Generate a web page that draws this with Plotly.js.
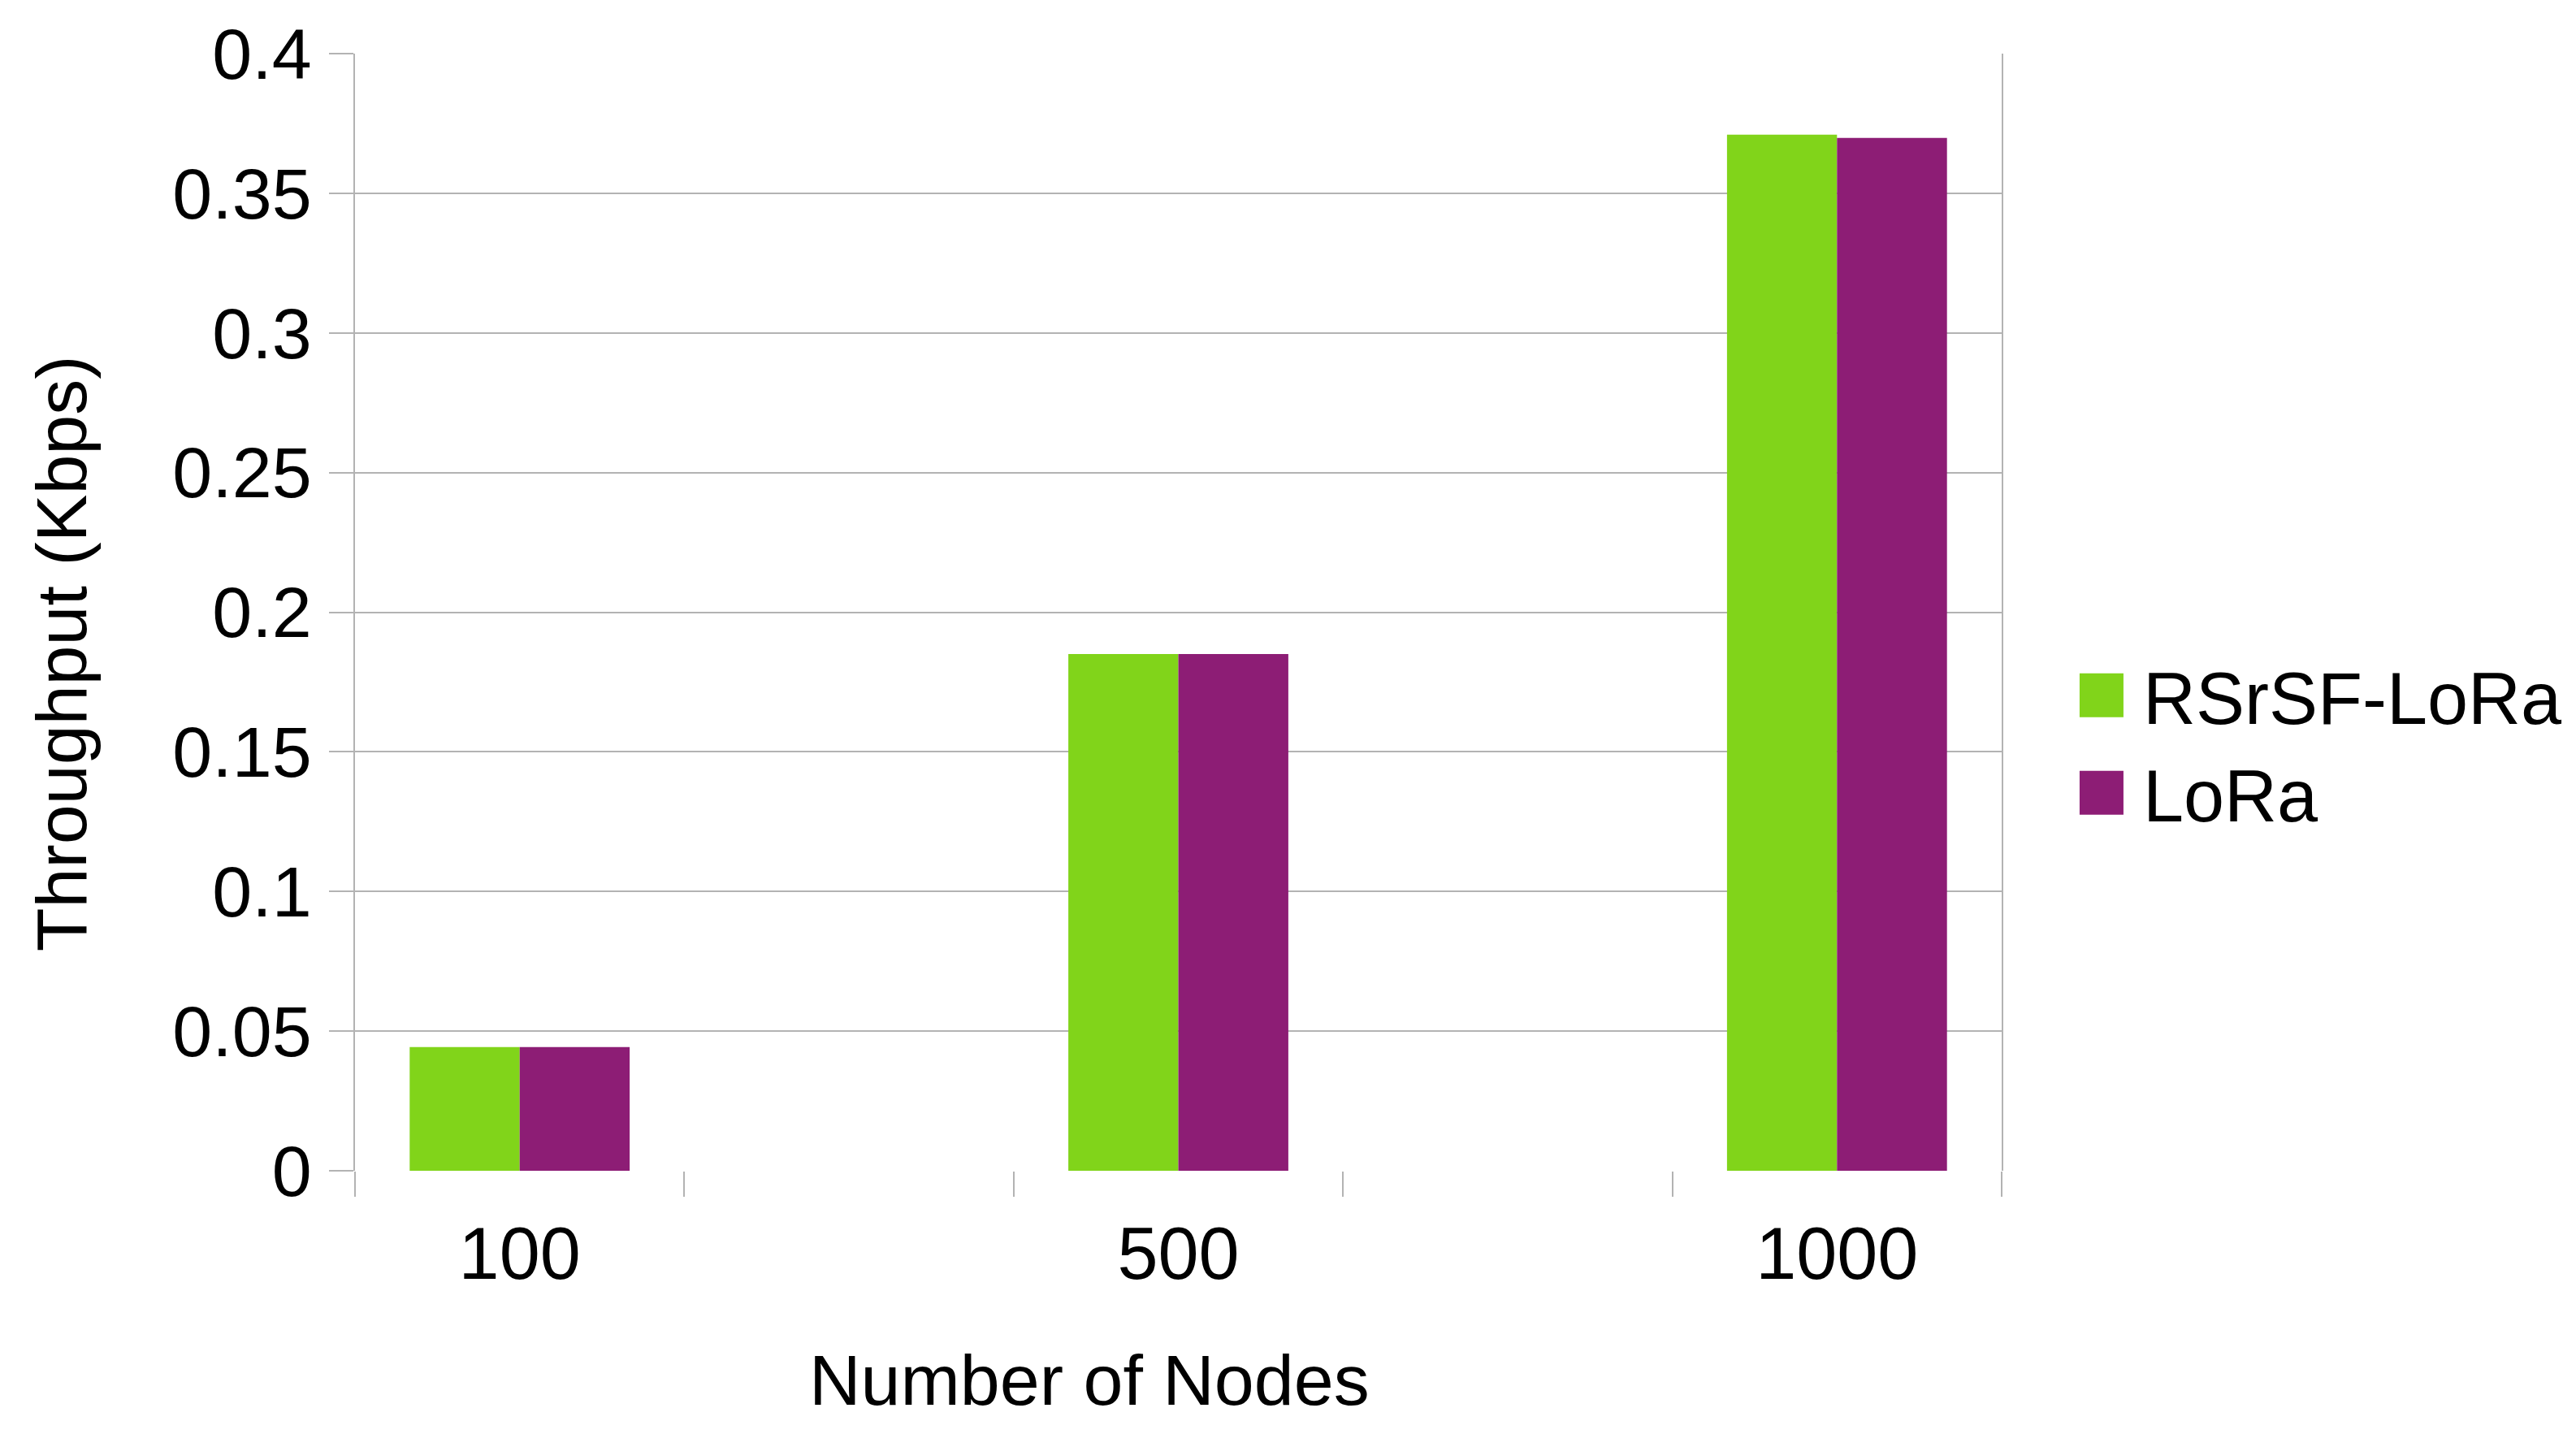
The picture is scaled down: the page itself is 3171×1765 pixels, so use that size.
<!DOCTYPE html>
<html>
<head>
<meta charset="utf-8">
<script src="https://cdn.plot.ly/plotly-3.0.1.min.js"></script>
<style>
  html, body { margin: 0; padding: 0; background: #fff; }
  #chart { width: 3171px; height: 1765px; }
</style>
</head>
<body>
<div id="chart"></div>
<script>
/* -------------------- Data -------------------- */

const categories = ["100", "500", "1000"];
const seriesNames = ["RSrSF-LoRa", "LoRa"];
const rsrsfLora = [0.0443, 0.185, 0.371];
const lora = [0.0443, 0.185, 0.3698];

/* -------------------- Style -------------------- */

const FONT = "Liberation Sans, Arial, sans-serif";
const GRID = "#b3b3b3";
const COLORS = ["#81d41a", "#8d1d75"];
const BAR_W = 0.334;
const SWATCH = 54;

// categories sit on every other slot, so the axis has 5 equal slots
const xPos = categories.map((c, i) => i * 2);
const slotEdges = [];
for (let i = 0; i <= xPos.length * 2 - 1; i++) slotEdges.push(i - 0.5);

const traces = [rsrsfLora, lora].map((vals, i) => ({
  type: "bar",
  name: seriesNames[i],
  x: xPos,
  y: vals,
  width: BAR_W,
  offset: i === 0 ? -BAR_W : 0,
  marker: { color: COLORS[i], line: { width: 0 } },
  hoverinfo: "skip",
}));

const layout = {
  width: 3171,
  height: 1765,
  margin: { l: 437, r: 707, t: 66, b: 324, pad: 0, autoexpand: false },
  paper_bgcolor: "#fff",
  plot_bgcolor: "#fff",
  font: { family: FONT, size: 88, color: "#000" },
  barmode: "overlay",
  showlegend: true,
  legend: {
    x: 1.0345,
    xanchor: "left",
    y: 0.382,
    yanchor: "middle",
    itemwidth: 94,
    font: { family: FONT, size: 90, color: "#000" },
    bgcolor: "rgba(0,0,0,0)",
    borderwidth: 0,
  },
  xaxis: {
    type: "linear",
    range: [-0.5, xPos.length * 2 - 1.5],
    tickmode: "array",
    tickvals: xPos,
    ticktext: categories,
    ticks: "",
    ticklabelstandoff: 42,
    showgrid: false,
    zeroline: false,
    showline: false,
    tickfont: { family: FONT, size: 90, color: "#000" },
    minor: {
      tickmode: "array",
      tickvals: slotEdges,
      ticks: "outside",
      ticklen: 31,
      tickwidth: 1.5,
      tickcolor: GRID,
      showgrid: false,
    },
  },
  yaxis: {
    range: [0, 0.4],
    tickmode: "linear",
    tick0: 0,
    dtick: 0.05,
    ticks: "outside",
    ticklen: 30,
    tickwidth: 1.5,
    tickcolor: GRID,
    ticklabelstandoff: 4,
    showgrid: true,
    gridcolor: GRID,
    gridwidth: 1.5,
    zeroline: false,
    showline: true,
    mirror: true,
    linecolor: GRID,
    linewidth: 1.5,
    tickfont: { family: FONT, size: 88, color: "#000" },
  },
  annotations: [
    {
      text: "Number of Nodes",
      xref: "paper", yref: "paper",
      x: 0.446, y: -0.187,
      xanchor: "center", yanchor: "middle",
      showarrow: false,
      font: { family: FONT, size: 88, color: "#000" },
    },
    {
      text: "Throughput (Kbps)",
      xref: "paper", yref: "paper",
      x: -0.178, y: 0.4633,
      xanchor: "center", yanchor: "middle",
      textangle: -90,
      showarrow: false,
      font: { family: FONT, size: 88, color: "#000" },
    },
  ],
};

// plotly draws bar legend swatches at a fixed 12px; make them match the big text
function fixLegend(gd) {
  gd.querySelectorAll(".legend .traces").forEach((item) => {
    const txt = item.querySelector(".legendtext");
    const sym = item.querySelector(".legendpoints path");
    if (!txt || !sym) return;
    const tx = parseFloat(txt.getAttribute("x")) || 0;
    const cx = tx - 24 - SWATCH / 2;
    sym.setAttribute("transform", `translate(${cx},0) scale(${SWATCH / 12})`);
  });
}

Plotly.newPlot("chart", traces, layout, { displayModeBar: false })
  .then((gd) => {
    fixLegend(gd);
    gd.on("plotly_afterplot", () => fixLegend(gd));
    setTimeout(() => fixLegend(gd), 50);
  });
</script>
</body>
</html>
